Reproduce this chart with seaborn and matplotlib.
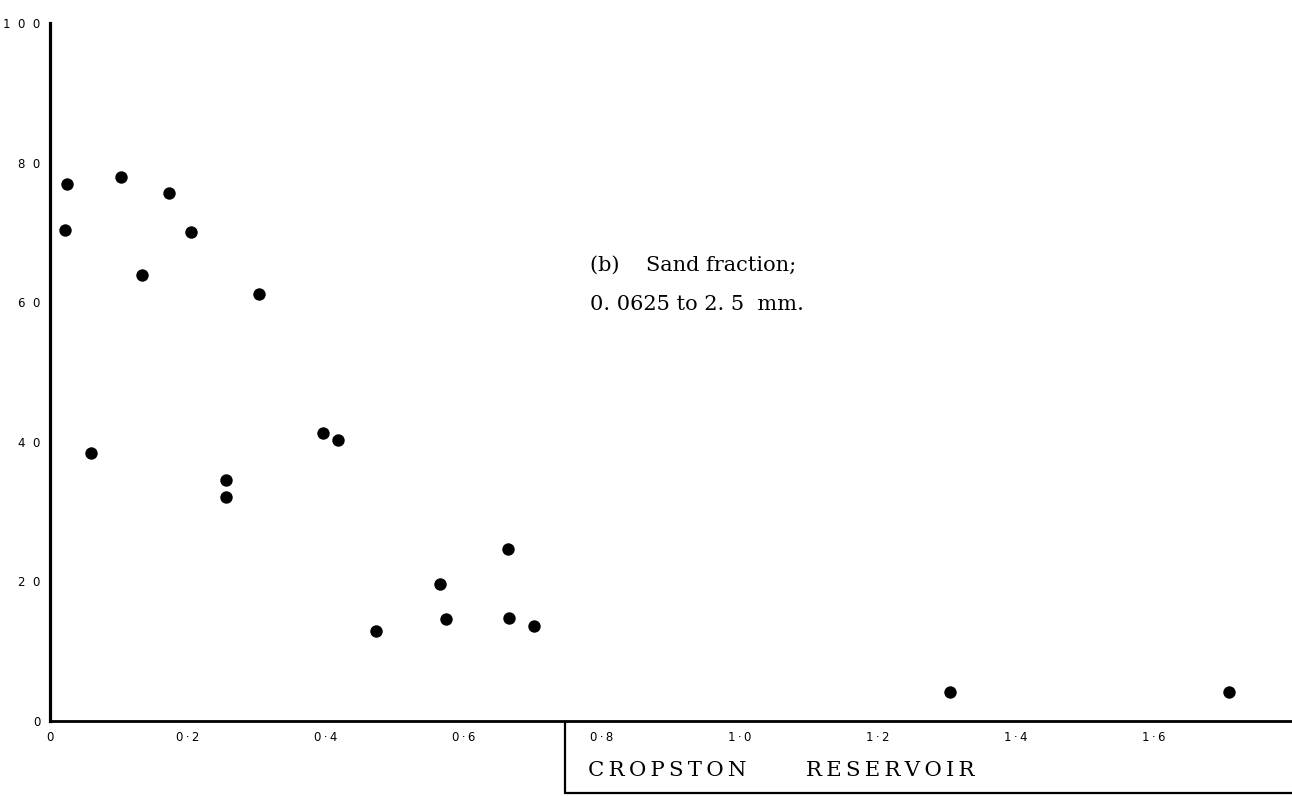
import numpy as np
import pandas as pd
import seaborn as sns
import matplotlib
matplotlib.use("Agg")
import matplotlib.pyplot as plt
from matplotlib.lines import Line2D

# ---- data ----
distance_km = [0.024, 0.022, 0.103, 0.133, 0.173, 0.204, 0.060, 0.303,
               0.255, 0.255, 0.395, 0.417, 0.473, 0.565, 0.574, 0.664,
               0.665, 0.702, 1.304, 1.708]
sand_pct = [76.9, 70.4, 78.0, 63.9, 75.7, 70.0, 38.4, 61.2,
            34.5, 32.1, 41.2, 40.2, 12.9, 19.6, 14.6, 24.7,
            14.7, 13.6, 4.2, 4.2]

x_ticks = [0, 0.2, 0.4, 0.6, 0.8, 1.0, 1.2, 1.4, 1.6]
x_tick_labels = ["0", "0\u2009\u00b7\u20092", "0\u2009\u00b7\u20094",
                 "0\u2009\u00b7\u20096", "0\u2009\u00b7\u20098",
                 "1\u2009\u00b7\u20090", "1\u2009\u00b7\u20092",
                 "1\u2009\u00b7\u20094", "1\u2009\u00b7\u20096"]
y_ticks = [0, 20, 40, 60, 80, 100]
y_tick_labels = ["0", "2  0", "4  0", "6  0", "8  0", "1  0  0"]

note_lines = ["(b)    Sand fraction;", "0. 0625 to 2. 5  mm."]
reservoir_words = ["CROPSTON", "RESERVOIR"]

df = pd.DataFrame({"distance": distance_km, "sand": sand_pct})

sns.set_style("white")
plt.rcParams["font.family"] = ["DejaVu Sans"]

W, H = 1292, 796
fig = plt.figure(figsize=(W / 100, H / 100), dpi=100)
ax = fig.add_axes([50 / W, 1 - 721 / H, 1 - 50 / W, (721 - 23) / H])

sns.scatterplot(data=df, x="distance", y="sand", ax=ax, color="black",
                s=80, edgecolor="black", linewidth=0, legend=False)

ax.set_xlim(0, 1.8)
ax.set_ylim(0, 100)
ax.set_xlabel("")
ax.set_ylabel("")

for side in ["top", "right"]:
    ax.spines[side].set_visible(False)
ax.spines["left"].set_linewidth(2.3)
ax.spines["bottom"].set_linewidth(2.0)
ax.spines["left"].set_color("black")
ax.spines["bottom"].set_color("black")

ax.set_xticks(x_ticks)
ax.set_xticklabels(x_tick_labels)
ax.set_yticks(y_ticks)
ax.set_yticklabels(y_tick_labels)
ax.tick_params(axis="both", direction="in", length=6, width=0.9,
               color="black", labelsize=8.5, labelcolor="black")
ax.tick_params(axis="x", pad=7)
ax.tick_params(axis="y", pad=7)

# annotation
ax.text(0.783, 65.3, note_lines[0], fontsize=15, family="DejaVu Serif",
        ha="left", va="center", color="black")
ax.text(0.783, 59.7, note_lines[1], fontsize=15, family="DejaVu Serif",
        ha="left", va="center", color="black")

# reservoir box (below the axis)
bx = 565 / W
by_top = 1 - 722 / H
by_bot = 1 - 793 / H
fig.add_artist(Line2D([bx, bx], [by_top, by_bot], transform=fig.transFigure,
                      color="black", lw=1.6))
fig.add_artist(Line2D([bx, 1.0], [by_bot, by_bot], transform=fig.transFigure,
                      color="black", lw=1.6))

def spaced(word, gap="\u2009"):
    return gap.join(list(word))

fig.text(588 / W, 1 - 771 / H, spaced(reservoir_words[0]), fontsize=15.3,
         family="DejaVu Serif", ha="left", va="center", color="black")
fig.text(806 / W, 1 - 771 / H, spaced(reservoir_words[1]), fontsize=15.3,
         family="DejaVu Serif", ha="left", va="center", color="black")

fig.savefig("out.png", dpi=100, facecolor="white")
